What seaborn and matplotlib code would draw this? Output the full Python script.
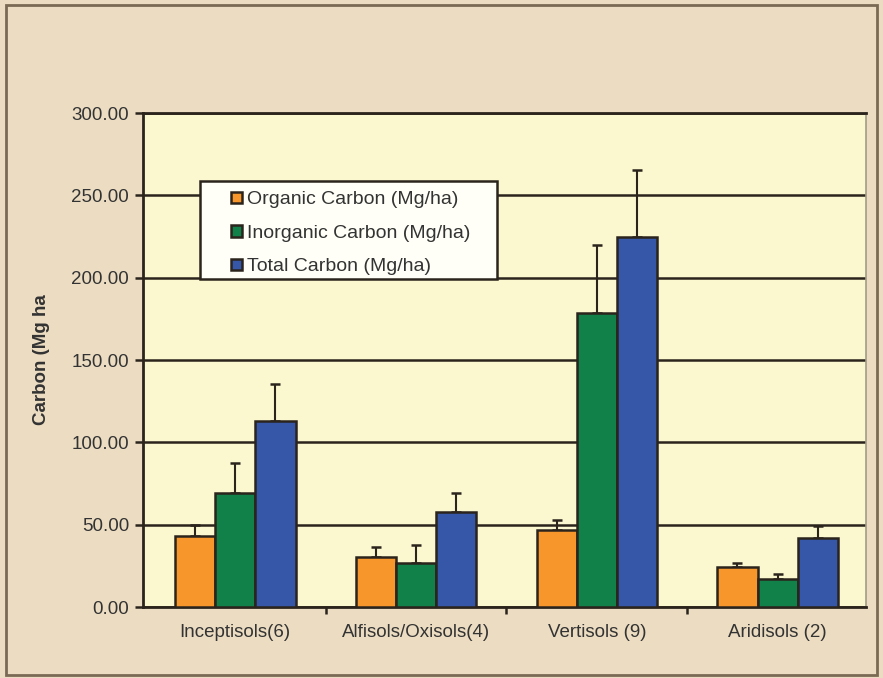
import pandas as pd
import seaborn as sns
import matplotlib.pyplot as plt
from matplotlib.patches import Rectangle
from matplotlib.ticker import FormatStrFormatter, FixedLocator, MultipleLocator

# data
soil_orders = ["Inceptisols(6)", "Alfisols/Oxisols(4)", "Vertisols (9)", "Aridisols (2)"]
series_names = ["Organic Carbon (Mg/ha)", "Inorganic Carbon (Mg/ha)", "Total Carbon (Mg/ha)"]
organic = [43.3, 30.5, 46.5, 24.1]
organic_err = [6.5, 5.7, 6.2, 2.8]
inorganic = [69.4, 26.9, 178.7, 17.2]
inorganic_err = [18.2, 10.7, 41.1, 2.8]
total = [113.1, 58.0, 224.7, 41.7]
total_err = [22.1, 11.0, 40.5, 7.5]

colors = ["#F7962B", "#128049", "#3656A8"]
dark = "#2a241c"
text_col = "#333333"

values = [organic, inorganic, total]
errors = [organic_err, inorganic_err, total_err]

rows = []
for name, vals in zip(series_names, values):
    for soil, v in zip(soil_orders, vals):
        rows.append({"Soil": soil, "Series": name, "Carbon": v})
df = pd.DataFrame(rows)

plt.rcParams['font.family'] = ['Liberation Sans', 'DejaVu Sans']

fig = plt.figure(figsize=(8.83, 6.78), dpi=100)
fig.patch.set_facecolor("#ECDDC2")
ax = fig.add_axes([0.162, 0.1047, 0.819, 0.7286])
ax.set_facecolor("#FBF8D0")

sns.barplot(data=df, x="Soil", y="Carbon", hue="Series", order=soil_orders,
            hue_order=series_names, palette=colors, saturation=1, width=0.667,
            edgecolor=dark, linewidth=1.8, errorbar=None, ax=ax, zorder=3)

# one-sided error bars on top of each bar
for container, errs in zip(ax.containers, errors):
    xs = [b.get_x() + b.get_width() / 2 for b in container]
    hs = [b.get_height() for b in container]
    ax.errorbar(xs, hs, yerr=[[0] * len(errs), errs], fmt="none",
                ecolor=dark, elinewidth=1.5, capsize=3.5, capthick=1.8, zorder=2)

# axes formatting
ax.set_ylim(0, 300)
ax.set_xlim(-0.51, 3.49)
ax.yaxis.set_major_locator(MultipleLocator(50))
ax.yaxis.set_major_formatter(FormatStrFormatter("%.2f"))
ax.yaxis.grid(True, color=dark, linewidth=1.8)
ax.set_axisbelow(True)
ax.xaxis.set_minor_locator(FixedLocator([0.5, 1.5, 2.5]))
ax.tick_params(axis="x", which="major", length=0, pad=12, labelsize=13.5, labelcolor=text_col)
ax.tick_params(axis="x", which="minor", length=5, width=1.8, color=dark, direction="out")
ax.tick_params(axis="y", length=6, width=1.8, color=dark, pad=4, labelsize=13.5, labelcolor=text_col)

for side in ["left", "bottom", "top"]:
    ax.spines[side].set_color(dark)
    ax.spines[side].set_linewidth(2)
ax.spines["right"].set_color("#A09C88")
ax.spines["right"].set_linewidth(1.2)

ax.set_xlabel("")
ax.set_ylabel("Carbon (Mg ha", fontsize=13.5, fontweight="bold", color=text_col)
ax.yaxis.set_label_coords(-0.128, 0.5)

# legend with its own box
ax.add_patch(Rectangle((0.079, 0.664), 0.411, 0.198, transform=ax.transAxes,
                       facecolor="#FFFFF7", edgecolor=dark, linewidth=1.8, zorder=5))
handles, labels = ax.get_legend_handles_labels()
leg = ax.legend(handles, labels, loc="upper left", bbox_to_anchor=(0.108, 0.861),
                frameon=False, borderpad=0, fontsize=14, handlelength=0.55,
                handleheight=0.55, handletextpad=0.3, labelspacing=0.85)
leg.set_zorder(6)
for t in leg.get_texts():
    t.set_color(text_col)

# frame around the whole picture
fig.patches.append(Rectangle((0.0068, 0.0044), 0.9862, 0.9882, transform=fig.transFigure,
                             fill=False, edgecolor="#7A6A55", linewidth=2))

fig.savefig("out.png", dpi=100, facecolor=fig.get_facecolor())
